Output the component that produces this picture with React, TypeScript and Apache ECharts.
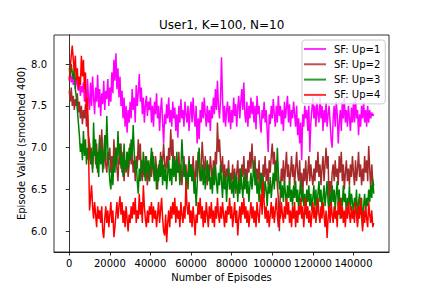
import React, { useEffect, useRef } from "react";
import * as echarts from "echarts";

const TITLE = "User1, K=100, N=10";
const X_NAME = "Number of Episodes";
const Y_NAME = "Episode Value (smoothed 400)";
const SERIES_NAMES = ["SF: Up=1", "SF: Up=2", "SF: Up=3", "SF: Up=4"];
const SERIES_COLORS = ["#ff00ff", "#a52a2a", "#008000", "#ff0000"];
const LEGEND_COLORS = ["#ff33ff", "#b75555", "#339933", "#ff3333"];
const EPISODE_STEP = 500;
const X_TICKS = [0, 20000, 40000, 60000, 80000, 100000, 120000, 140000];
const Y_TICKS = [6.0, 6.5, 7.0, 7.5, 8.0];

const up1 = [
  7.82, 7.9, 7.78, 7.86, 7.75, 7.92, 7.7, 7.84, 7.76, 7.68, 7.8, 7.62, 7.74, 7.66, 7.78, 7.55, 7.7, 7.48, 7.82, 7.6,
  7.45, 7.78, 7.5, 7.85, 7.6, 7.4, 7.72, 7.55, 7.87, 7.48, 7.7, 7.38, 7.65, 7.52, 7.8, 7.45, 7.68, 7.58, 7.82, 7.5,
  7.72, 7.55, 7.9, 7.65, 8.05, 7.8, 8.13, 7.7, 7.95, 7.6, 7.85, 7.5, 7.68, 7.35, 7.6, 7.25, 7.5, 7.18, 7.45, 7.3,
  7.55, 7.35, 7.7, 7.45, 7.6, 7.3, 7.75, 7.5, 7.65, 7.88, 7.55, 7.72, 7.4, 7.6, 7.3, 7.5, 7.62, 7.38, 7.55, 7.45,
  7.6, 7.3, 7.5, 7.25, 7.55, 7.4, 7.65, 7.35, 7.5, 7.2, 7.45, 7.6, 7.3, 7.05, 7.4, 7.28, 7.52, 7.35, 7.6, 7.3,
  7.45, 7.25, 7.55, 7.35, 7.48, 7.2, 7.4, 7.12, 7.5, 7.3, 7.58, 7.35, 7.45, 7.25, 7.55, 7.4, 7.3, 7.5, 7.2, 7.42,
  7.55, 7.3, 7.6, 7.38, 7.25, 7.5, 7.05, 7.35, 7.1, 7.45, 7.3, 7.55, 7.35, 7.6, 7.4, 7.25, 7.5, 7.3, 7.45, 7.2,
  7.5, 7.35, 7.6, 7.4, 7.7, 7.45, 7.8, 7.5, 7.35, 7.55, 8.08, 7.6, 7.3, 7.5, 7.25, 7.45, 7.55, 7.3, 7.5, 7.22,
  7.45, 7.3, 7.6, 7.38, 7.52, 7.25, 7.48, 7.62, 7.35, 7.55, 7.7, 7.45, 7.78, 7.4, 7.3, 7.55, 7.25, 7.5, 7.35, 7.6,
  7.4, 7.55, 7.3, 7.5, 7.22, 7.62, 7.4, 7.5, 7.3, 7.18, 7.45, 7.35, 7.55, 7.3, 7.45, 7.2, 6.95, 7.4, 7.28, 7.5,
  7.35, 7.58, 7.4, 7.25, 7.5, 7.3, 7.62, 7.38, 7.5, 7.28, 7.45, 7.2, 7.55, 7.35, 7.48, 7.62, 7.3, 7.52, 7.25, 7.45,
  7.35, 7.55, 7.4, 7.25, 7.5, 7.15, 7.35, 7.05, 7.3, 6.85, 7.4, 7.25, 7.5, 7.35, 7.45, 7.2, 7.5, 6.95, 7.3, 7.45,
  7.6, 7.35, 7.5, 7.25, 7.55, 7.4, 7.3, 7.6, 7.35, 7.5, 7.2, 7.45, 7.3, 7.55, 7.25, 7.4, 7.5, 7.3, 7.1, 7.0,
  7.35, 7.5, 7.25, 7.55, 7.4, 7.05, 7.3, 7.45, 7.2, 7.55, 7.35, 7.6, 7.3, 7.45, 7.25, 7.5, 7.35, 7.2, 7.48, 7.3,
  7.55, 7.3, 7.6, 7.35, 7.45, 7.15, 7.4, 7.25, 7.5, 7.35, 7.55, 7.3, 7.45, 7.25, 7.5, 7.3, 7.45, 7.35, 7.42, 7.38,
  7.4,
];

const up2 = [
  7.68, 7.55, 7.72, 7.5, 7.62, 7.45, 7.58, 7.5, 7.65, 7.42, 7.55, 7.35, 7.5, 7.28, 7.45, 7.35, 7.52, 7.25, 7.4, 7.15,
  7.05, 6.85, 7.0, 6.75, 6.95, 7.1, 6.8, 7.05, 6.7, 6.9, 7.15, 6.85, 7.22, 6.95, 6.75, 7.05, 6.8, 6.7, 6.95, 6.85,
  7.0, 6.7, 6.9, 6.65, 7.1, 6.85, 7.0, 6.75, 6.6, 6.9, 6.8, 7.05, 6.7, 6.95, 6.6, 6.85, 6.75, 6.95, 6.65, 6.8,
  7.05, 6.8, 6.95, 6.7, 6.85, 6.6, 6.9, 6.75, 7.1, 6.85, 7.05, 6.7, 6.6, 6.85, 6.65, 6.9, 6.7, 6.55, 6.8, 6.6,
  6.85, 6.65, 6.95, 6.7, 6.6, 6.9, 6.75, 6.5, 6.8, 6.65, 6.95, 6.7, 6.85, 7.05, 6.8, 6.7, 6.9, 6.75, 7.0, 6.85,
  7.22, 6.9, 7.1, 6.75, 6.9, 6.6, 6.85, 6.7, 6.95, 6.6, 6.8, 6.55, 6.75, 6.9, 6.65, 6.8, 6.55, 6.7, 6.9, 6.65,
  6.8, 6.6, 6.9, 6.7, 6.55, 6.85, 6.65, 6.95, 6.75, 6.6, 6.8, 7.07, 6.85, 6.65, 6.9, 6.7, 6.55, 6.8, 6.65, 6.9,
  6.75, 6.55, 6.85, 6.65, 6.95, 6.8, 7.3, 6.95, 7.1, 6.85, 6.7, 6.9, 6.6, 6.8, 6.55, 6.75, 6.65, 6.85, 6.5, 6.7,
  6.6, 6.8, 6.55, 6.75, 6.45, 6.7, 6.85, 6.6, 6.75, 6.5, 6.8, 6.65, 6.9, 6.6, 6.75, 6.55, 6.85, 6.7, 6.95, 6.75,
  7.05, 6.8, 6.65, 6.9, 6.55, 6.75, 6.6, 6.85, 6.5, 6.7, 6.45, 6.8, 6.65, 6.9, 6.6, 6.75, 6.55, 6.85, 6.7, 6.9,
  7.05, 6.8, 6.95, 6.7, 6.85, 6.55, 6.4, 6.0, 6.5, 6.75, 6.6, 6.85, 6.55, 6.75, 6.95, 6.65, 6.8, 6.55, 6.7, 6.9,
  6.65, 6.8, 6.55, 6.75, 6.95, 6.7, 6.6, 6.85, 6.5, 6.7, 6.4, 6.75, 6.6, 6.85, 6.55, 6.7, 6.9, 6.6, 6.8, 6.65,
  6.55, 6.75, 6.6, 6.85, 6.7, 6.95, 6.65, 6.8, 6.55, 6.75, 6.9, 6.6, 6.8, 7.0, 6.75, 6.9, 6.3, 6.6, 6.45, 6.7,
  6.8, 6.6, 6.85, 6.65, 6.75, 6.55, 6.9, 6.7, 6.95, 6.6, 6.8, 6.5, 6.7, 6.85, 6.6, 6.75, 6.55, 6.8, 6.65, 6.9,
  6.7, 6.55, 6.85, 6.6, 6.75, 6.95, 6.65, 6.8, 6.55, 6.75, 6.6, 6.9, 6.7, 6.85, 6.6, 7.02, 6.75, 6.5, 6.8, 6.6,
  6.55,
];

const up3 = [
  7.95, 7.85, 8.0, 7.9, 7.82, 7.95, 7.7, 7.6, 7.45, 7.3, 7.15, 6.95, 7.05, 6.85, 7.2, 6.9, 7.1, 6.8, 7.0, 6.85,
  7.05, 6.8, 6.95, 6.7, 7.3, 6.9, 7.1, 6.75, 6.95, 6.65, 7.1, 6.8, 7.0, 6.7, 6.9, 7.15, 6.85, 7.38, 7.0, 6.8,
  6.6, 6.5, 6.75, 6.55, 6.9, 6.7, 7.0, 6.8, 7.2, 6.9, 7.05, 6.75, 6.9, 6.65, 7.05, 6.8, 6.7, 6.95, 6.75, 7.0,
  6.85, 7.1, 6.9, 7.27, 6.95, 6.7, 6.85, 6.6, 6.45, 6.75, 6.6, 6.85, 6.7, 6.95, 6.75, 6.6, 6.9, 6.7, 6.85, 6.6,
  6.8, 7.0, 6.75, 6.9, 6.6, 6.8, 6.5, 6.75, 6.6, 6.85, 6.65, 6.9, 6.55, 6.8, 6.6, 6.75, 6.5, 6.7, 6.85, 6.6,
  6.75, 6.55, 6.9, 6.65, 6.85, 6.6, 6.95, 6.7, 6.8, 6.55, 6.75, 7.1, 6.85, 6.65, 6.8, 6.55, 6.7, 6.5, 6.85, 6.65,
  6.8, 6.6, 6.75, 6.45, 6.6, 6.3, 6.55, 6.85, 7.0, 6.7, 6.6, 6.8, 6.55, 6.75, 6.5, 6.7, 6.85, 6.6, 6.75, 6.5,
  6.65, 6.45, 6.75, 6.55, 6.8, 6.6, 6.45, 6.7, 6.55, 6.8, 6.6, 6.4, 6.7, 6.5, 6.65, 6.35, 6.6, 6.75, 6.5, 6.65,
  6.45, 6.6, 6.4, 6.7, 6.5, 6.65, 6.35, 6.6, 6.45, 6.75, 6.55, 6.4, 6.65, 6.5, 6.7, 6.45, 6.6, 6.35, 6.55, 6.7,
  6.5, 6.65, 6.85, 6.55, 6.7, 6.45, 6.6, 6.35, 6.55, 6.7, 6.45, 6.65, 6.4, 6.6, 6.5, 6.3, 6.55, 6.45, 6.65, 6.4,
  6.55, 6.7, 6.5, 6.8, 6.6, 7.0, 6.7, 6.5, 6.6, 6.4, 6.55, 6.35, 6.6, 6.45, 6.3, 6.55, 6.4, 6.6, 6.35, 6.5,
  6.3, 6.55, 6.4, 6.6, 6.35, 6.5, 6.25, 6.45, 6.6, 6.35, 6.5, 6.3, 6.45, 6.2, 6.5, 6.35, 6.55, 6.3, 6.45, 6.25,
  6.4, 6.55, 6.3, 6.5, 6.2, 6.45, 6.6, 6.35, 6.5, 6.25, 6.4, 6.55, 6.3, 6.45, 6.6, 6.35, 6.2, 6.45, 6.3, 6.55,
  6.35, 6.5, 6.25, 6.45, 6.6, 6.3, 6.5, 6.15, 6.4, 6.3, 6.55, 6.35, 6.45, 6.2, 6.4, 6.3, 6.55, 6.25, 6.45, 6.35,
  6.2, 6.4, 6.3, 6.5, 6.1, 6.35, 6.45, 6.2, 6.4, 6.05, 6.3, 6.45, 6.25, 6.4, 6.3, 6.5, 6.35, 6.55, 6.4, 6.62,
  6.45,
];

const up4 = [
  7.8, 7.95, 8.1, 8.22, 8.05, 7.9, 8.1, 7.8, 7.95, 7.7, 7.85, 7.75, 8.1, 7.85, 8.05, 7.7, 7.9, 7.4, 7.6, 7.0,
  6.25, 6.4, 6.55, 6.3, 6.15, 6.35, 6.2, 6.05, 6.3, 6.15, 6.25, 6.1, 6.3, 6.0, 5.92, 6.15, 6.3, 6.1, 6.25, 6.05,
  6.2, 6.35, 6.1, 6.25, 5.93, 6.05, 6.2, 6.35, 6.15, 6.3, 6.42, 6.2, 6.35, 6.1, 6.25, 6.05, 6.3, 6.15, 6.0, 6.2,
  6.1, 6.3, 6.15, 6.35, 6.2, 6.4, 6.1, 6.25, 6.15, 6.45, 6.2, 6.35, 6.1, 6.55, 6.3, 6.15, 6.05, 6.25, 6.1, 6.3,
  6.2, 6.35, 6.1, 6.3, 6.15, 6.25, 6.05, 6.2, 6.35, 6.1, 6.25, 6.4, 6.15, 6.0, 5.95, 6.2, 5.87, 6.1, 6.25, 6.05,
  6.3, 6.15, 6.35, 6.2, 6.4, 6.1, 6.3, 6.15, 6.25, 6.05, 6.35, 6.2, 6.1, 6.3, 6.15, 6.6, 6.3, 6.2, 6.35, 6.1,
  6.25, 6.05, 6.3, 6.15, 5.95, 6.2, 6.1, 6.35, 6.2, 6.4, 6.15, 6.3, 6.05, 6.25, 6.1, 6.35, 6.2, 6.05, 6.3, 6.15,
  6.35, 6.1, 6.25, 6.05, 6.3, 6.15, 6.4, 6.2, 6.1, 6.3, 6.15, 6.35, 6.2, 6.05, 6.25, 6.1, 6.3, 6.2, 6.4, 6.15,
  6.3, 6.05, 6.2, 6.35, 6.1, 6.25, 5.95, 6.15, 6.3, 6.1, 6.35, 6.2, 6.4, 6.15, 6.3, 6.1, 6.25, 6.05, 6.2, 6.35,
  6.15, 6.3, 6.1, 6.25, 6.05, 6.35, 6.2, 6.1, 6.3, 6.45, 6.2, 6.6, 6.35, 6.15, 6.3, 6.1, 6.25, 6.05, 6.2, 6.35,
  6.15, 6.3, 6.1, 6.25, 6.4, 6.2, 6.05, 6.3, 6.15, 6.35, 6.2, 6.1, 6.3, 6.15, 6.4, 6.2, 6.35, 6.1, 6.25, 6.05,
  6.3, 6.15, 6.35, 6.05, 6.25, 6.1, 6.3, 6.2, 6.4, 6.15, 6.3, 6.05, 6.25, 6.4, 6.15, 6.3, 6.1, 6.25, 6.05, 6.2,
  6.35, 6.15, 6.3, 6.1, 6.25, 6.4, 6.2, 6.1, 6.3, 6.15, 6.35, 6.2, 6.05, 6.25, 5.92, 6.15, 6.3, 6.1, 6.35, 6.2,
  6.1, 6.3, 6.15, 6.25, 6.05, 6.35, 6.2, 6.4, 6.15, 6.3, 6.1, 6.25, 6.05, 6.3, 6.15, 6.35, 6.2, 6.1, 6.3, 6.15,
  6.25, 6.1, 6.35, 6.2, 6.05, 6.3, 6.15, 6.4, 6.2, 6.0, 6.25, 6.1, 6.3, 6.15, 6.05, 6.35, 6.2, 6.1, 6.25, 6.05,
  6.1,
];

const SERIES_VALUES = [up1, up2, up3, up4];

const FONT = "DejaVu Sans";

export default function App() {
  const ref = useRef<HTMLDivElement>(null);
  useEffect(() => {
    document.body.style.margin = "0";
    if (!ref.current) return;
    const chart = echarts.init(ref.current, undefined, { renderer: "svg" });
    const series = SERIES_NAMES.map((name, i) => ({
      name,
      type: "line",
      data: SERIES_VALUES[i].map((v, k) => [k * EPISODE_STEP, v]),
      showSymbol: false,
      symbol: "none",
      lineStyle: { color: SERIES_COLORS[i], width: 1.5 },
      itemStyle: { color: SERIES_COLORS[i] },
      emphasis: { disabled: true },
    }));
    chart.setOption({
      animation: false,
      backgroundColor: "#ffffff",
      textStyle: { fontFamily: FONT },
      grid: {
        left: 54,
        right: 43,
        top: 35,
        bottom: 36,
        show: true,
        borderColor: "#000",
        borderWidth: 0.8,
        backgroundColor: "transparent",
      },
      title: {
        text: TITLE,
        left: 221.7,
        top: 19,
        textAlign: "center",
        padding: 0,
        textStyle: {
          fontSize: 12,
          fontWeight: "normal",
          fontFamily: FONT,
          color: "#000",
        },
      },
      legend: {
        orient: "vertical",
        left: 302,
        top: 40,
        itemWidth: 22,
        itemHeight: 2,
        itemGap: 3.3,
        padding: [3, 5, 3, 2],
        backgroundColor: "rgba(255,255,255,0.8)",
        borderColor: "#cccccc",
        borderWidth: 1,
        borderRadius: 3,
        selectedMode: false,
        textStyle: {
          fontSize: 10,
          fontFamily: FONT,
          color: "#000",
          lineHeight: 12,
          padding: [0, 0, 0, 3],
        },
        data: SERIES_NAMES.map((name, i) => ({
          name,
          icon: "rect",
          itemStyle: { color: LEGEND_COLORS[i] },
        })),
      },
      xAxis: {
        type: "value",
        min: -7500,
        max: 157500,
        name: X_NAME,
        nameLocation: "middle",
        nameGap: 20,
        nameMoveOverlap: false,
        nameTextStyle: { fontSize: 10, fontFamily: FONT, color: "#000" },
        axisLine: { show: true, lineStyle: { color: "#000", width: 0.8 } },
        axisTick: {
          show: true,
          length: 3.5,
          lineStyle: { color: "#000", width: 0.8 },
          customValues: X_TICKS,
        },
        axisLabel: {
          fontSize: 10,
          fontFamily: FONT,
          color: "#000",
          margin: 6,
          customValues: X_TICKS,
          formatter: (v: number) => String(v),
        },
        splitLine: { show: false },
      },
      yAxis: {
        type: "value",
        min: 5.753,
        max: 8.347,
        name: Y_NAME,
        nameLocation: "middle",
        nameGap: 28,
        nameMoveOverlap: false,
        nameRotate: 90,
        nameTextStyle: { fontSize: 10, fontFamily: FONT, color: "#000" },
        axisLine: { show: true, lineStyle: { color: "#000", width: 0.8 } },
        axisTick: {
          show: true,
          length: 3.5,
          lineStyle: { color: "#000", width: 0.8 },
          customValues: Y_TICKS,
        },
        axisLabel: {
          fontSize: 10,
          fontFamily: FONT,
          color: "#000",
          margin: 7,
          customValues: Y_TICKS,
          formatter: (v: number) => v.toFixed(1),
        },
        splitLine: { show: false },
      },
      series,
    });
    return () => chart.dispose();
  }, []);
  return <div ref={ref} style={{ width: 432, height: 288 }} />;
}
